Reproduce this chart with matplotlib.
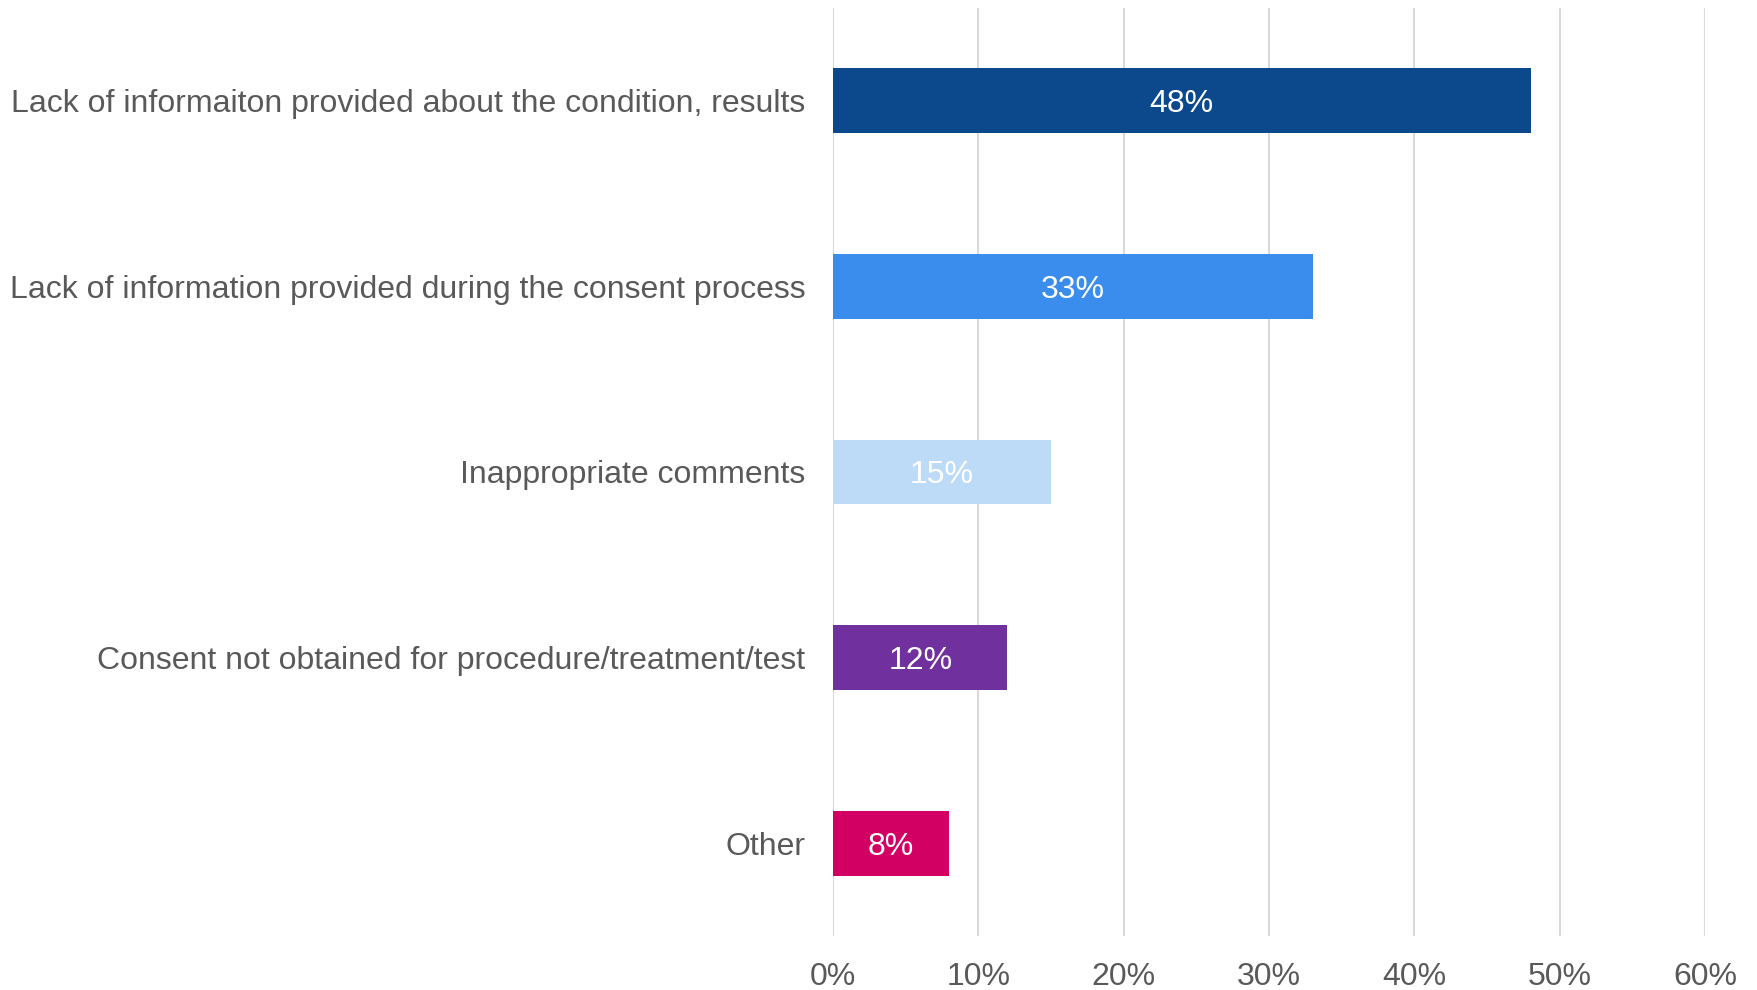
import matplotlib.pyplot as plt
import numpy as np

plt.rcParams['font.family'] = ['Liberation Sans', 'DejaVu Sans']

categories = [
    'Lack of informaiton provided about the condition, results',
    'Lack of information provided during the consent process',
    'Inappropriate comments',
    'Consent not obtained for procedure/treatment/test',
    'Other',
]
values = [48, 33, 15, 12, 8]
colors = ['#0C488C', '#3A8DEC', '#BDDAF7', '#70309D', '#D20063']
x_ticks = [0, 10, 20, 30, 40, 50, 60]

GREY = '#595959'


def main() -> None:
    fig = plt.figure(figsize=(17.57, 9.9), dpi=100)
    ax = fig.add_axes([833 / 1757, 1 - 936 / 990, (1705 - 833) / 1757, (936 - 8) / 990])

    y = np.arange(len(categories))
    ax.barh(y, values, height=0.35, color=colors, zorder=3)

    for yi, v in zip(y, values):
        ax.text(v / 2, yi, f'{v}%', ha='center', va='center_baseline',
                color='white', fontsize=23, zorder=4)

    ax.set_xlim(0, 60)
    ax.set_ylim(len(categories) - 0.5, -0.5)
    ax.set_xticks(x_ticks)
    ax.set_xticklabels([f'{t}%' for t in x_ticks])
    ax.set_yticks(y)
    ax.set_yticklabels(categories)
    ax.tick_params(axis='x', length=0, pad=19, labelsize=23, labelcolor=GREY)
    ax.tick_params(axis='y', length=0, pad=20, labelsize=23, labelcolor=GREY)

    ax.grid(axis='x', color='#D9D9D9', linewidth=1.5, zorder=0)
    for side in ax.spines.values():
        side.set_visible(False)

    fig.savefig('out.png', dpi=100)
    plt.close(fig)


if __name__ == '__main__':
    main()
